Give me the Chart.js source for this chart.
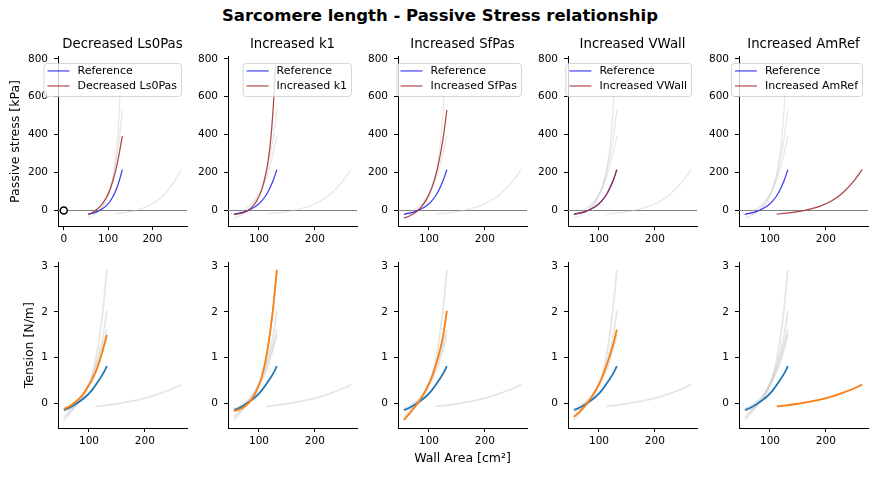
<!DOCTYPE html>
<html>
<head>
<meta charset="utf-8">
<title>Sarcomere length - Passive Stress relationship</title>
<script src="https://cdn.jsdelivr.net/npm/chart.js@4.4.1/dist/chart.umd.min.js"></script>
<style>
  body { margin: 0; background: #fff; }
  #figure { position: relative; width: 880px; height: 480px; font-family: "DejaVu Sans", sans-serif; overflow: hidden; }
  #suptitle { position: absolute; left: 0; width: 880px; top: 6px; text-align: center; font-weight: bold; font-size: 16.5px; color: #000; }
  .panel { position: absolute; }
</style>
</head>
<body>
<div id="figure">
  <div id="suptitle">Sarcomere length - Passive Stress relationship</div>
</div>
<script>
// panel titles, one per changed parameter
const panelTitles = ['Decreased Ls0Pas', 'Increased k1', 'Increased SfPas', 'Increased VWall', 'Increased AmRef'];

// wall area [cm^2]
const wallArea = [55, 65, 75, 85, 95, 105, 115, 125, 132];
const wallAreaK1Stress = [55, 65, 75, 85, 95, 105, 115, 120, 125, 129.5];
const wallAreaAmRef = [112, 130, 150, 170, 190, 210, 230, 250, 265];

// passive stress [kPa]
const stressRef = [-20, -14, -6, 6, 23, 50, 92, 155, 215];
const stressLs0Pas = [-22, -11, 6, 29, 64, 115, 190, 299, 392];
const stressK1 = [-21, -17, -8, 10, 46, 110, 238, 345, 520, 770];
const stressSfPas = [-40, -29, -12, 15, 56, 120, 220, 375, 530];
const stressVWall = [-20, -14, -6, 6, 23, 50, 92, 155, 215];
const stressAmRef = [-19, -14, -6, 6, 23, 50, 92, 155, 215];

// tension [N/m]
const tensionRef = [-0.15, -0.10, -0.03, 0.05, 0.15, 0.28, 0.45, 0.64, 0.81];
const tensionLs0Pas = [-0.13, -0.07, 0.02, 0.13, 0.30, 0.50, 0.78, 1.17, 1.49];
const tensionK1 = [-0.17, -0.14, -0.07, 0.05, 0.25, 0.58, 1.15, 2.05, 2.92];
const tensionSfPas = [-0.37, -0.23, -0.08, 0.09, 0.30, 0.57, 0.95, 1.45, 2.02];
const tensionVWall = [-0.30, -0.19, -0.06, 0.10, 0.30, 0.55, 0.88, 1.27, 1.61];
const tensionAmRef = [-0.07, -0.05, -0.015, 0.025, 0.075, 0.14, 0.225, 0.32, 0.405];

// tick labels
const stressTicks = [0, 200, 400, 600, 800];
const tensionTicks = [0, 1, 2, 3];
const areaTicks = [100, 200];
const areaTicksFirst = [0, 100, 200];

const toPoints = (xs, ys) => xs.map((x, i) => ({x: x, y: ys[i]}));

const stressRefPts = toPoints(wallArea, stressRef);
const stressSeries = [
    toPoints(wallArea, stressLs0Pas),
    toPoints(wallAreaK1Stress, stressK1),
    toPoints(wallArea, stressSfPas),
    toPoints(wallArea, stressVWall),
    toPoints(wallAreaAmRef, stressAmRef)
];
const tensionRefPts = toPoints(wallArea, tensionRef);
const tensionSeries = [
    toPoints(wallArea, tensionLs0Pas),
    toPoints(wallArea, tensionK1),
    toPoints(wallArea, tensionSfPas),
    toPoints(wallArea, tensionVWall),
    toPoints(wallAreaAmRef, tensionAmRef)
];

Chart.defaults.font.family = '"DejaVu Sans", sans-serif';
Chart.defaults.color = '#000';
Chart.defaults.animation = false;

// grey line at zero stress
const zeroLine = {
    id: 'zeroLine',
    beforeDatasetsDraw(chart, args, opts) {
        if (!opts.show) return;
        const {ctx, chartArea, scales} = chart;
        const y = Math.round(scales.y.getPixelForValue(0)) + 0.5;
        ctx.save();
        ctx.strokeStyle = '#808080';
        ctx.lineWidth = 1;
        ctx.beginPath();
        ctx.moveTo(chartArea.left, y);
        ctx.lineTo(chartArea.right, y);
        ctx.stroke();
        ctx.restore();
    }
};

// matplotlib-like framed legend, upper right inside the axes
const boxLegend = {
    id: 'boxLegend',
    afterDraw(chart, args, opts) {
        if (!opts.items) return;
        const {ctx, chartArea} = chart;
        ctx.save();
        ctx.font = '11px "DejaVu Sans", sans-serif';
        const textW = Math.max(...opts.items.map(it => ctx.measureText(it.label).width));
        const w = 33 + textW + 5;
        const h = 33;
        const x = chartArea.right - 6 - w;
        const y = chartArea.top + 6;
        ctx.beginPath();
        ctx.roundRect(x + 0.5, y + 0.5, w, h, 3);
        ctx.fillStyle = 'rgba(255,255,255,0.8)';
        ctx.fill();
        ctx.strokeStyle = 'rgba(204,204,204,0.8)';
        ctx.lineWidth = 1;
        ctx.stroke();
        opts.items.forEach((it, i) => {
            const cy = y + 8 + i * 15;
            ctx.strokeStyle = it.color;
            ctx.lineWidth = 1.2;
            ctx.beginPath();
            ctx.moveTo(x + 4, cy);
            ctx.lineTo(x + 26, cy);
            ctx.stroke();
            ctx.fillStyle = '#000';
            ctx.textBaseline = 'middle';
            ctx.fillText(it.label, x + 34, cy);
        });
        ctx.restore();
    }
};

const fig = document.getElementById('figure');
const colLeft = [58, 228, 398, 568, 739];
const axW = 129;
const grey = 'rgba(200,200,200,0.45)';

function makePanel(row, col) {
    const isTop = row === 0;
    const yW = col === 0 ? 58 : 42;
    const padR = 12;
    const top = isTop ? 28 : 250;
    const h = isTop ? 222 : 230;
    const w = yW + axW + padR;

    const div = document.createElement('div');
    div.className = 'panel';
    div.style.left = (colLeft[col] - yW) + 'px';
    div.style.top = top + 'px';
    const canvas = document.createElement('canvas');
    canvas.width = w;
    canvas.height = h;
    div.appendChild(canvas);
    fig.appendChild(div);

    const series = isTop ? stressSeries : tensionSeries;
    const refPts = isTop ? stressRefPts : tensionRefPts;
    const modColor = isTop ? 'rgba(165,42,42,0.85)' : '#ff7f0e';
    const refColor = isTop ? 'rgba(0,0,255,0.75)' : '#1f77b4';
    const lw = isTop ? 1.2 : 1.8;

    const datasets = [];
    if (isTop && col === 0) {
        datasets.push({
            label: 'origin',
            data: [{x: 0, y: 0}],
            showLine: false,
            pointRadius: 3.5,
            pointBorderWidth: 1.5,
            pointBorderColor: '#000',
            pointBackgroundColor: '#fff',
            order: -1
        });
    }
    datasets.push({
        label: panelTitles[col],
        data: series[col],
        borderColor: modColor,
        borderWidth: lw,
        order: 0
    });
    datasets.push({
        label: 'Reference',
        data: refPts,
        borderColor: refColor,
        borderWidth: lw,
        order: 1
    });
    series.forEach((pts, i) => {
        datasets.push({
            label: 'grey ' + i,
            data: pts,
            borderColor: grey,
            borderWidth: lw,
            order: 2
        });
    });

    const xFirst = isTop && col === 0;
    new Chart(canvas, {
        type: 'line',
        data: {datasets: datasets},
        options: {
            responsive: false,
            layout: {padding: {top: isTop ? 0 : 8, right: padR, left: 0, bottom: 0}},
            elements: {
                point: {radius: 0},
                line: {cubicInterpolationMode: 'monotone'}
            },
            scales: {
                x: {
                    type: 'linear',
                    min: xFirst ? -13 : 44.5,
                    max: xFirst ? 278 : 275.5,
                    afterBuildTicks: s => { s.ticks = (xFirst ? areaTicksFirst : areaTicks).map(v => ({value: v})); },
                    afterFit: s => { s.height = isTop ? 24 : 52; },
                    grid: {drawOnChartArea: false, tickLength: 4, tickColor: '#000'},
                    border: {color: '#000'},
                    ticks: {font: {size: 10.5}, padding: 3, maxRotation: 0},
                    title: {
                        display: !isTop && col === 2,
                        text: 'Wall Area [cm²]',
                        font: {size: 12.5},
                        padding: {top: 0, bottom: 14}
                    }
                },
                y: {
                    min: isTop ? -82 : -0.545,
                    max: isTop ? 810 : 3.085,
                    afterBuildTicks: s => { s.ticks = (isTop ? stressTicks : tensionTicks).map(v => ({value: v})); },
                    afterFit: s => { s.width = yW; },
                    grid: {drawOnChartArea: false, tickLength: 4, tickColor: '#000'},
                    border: {color: '#000'},
                    ticks: {font: {size: 10.5}, padding: 6},
                    title: {
                        display: col === 0,
                        text: isTop ? 'Passive stress [kPa]' : 'Tension [N/m]',
                        font: {size: 12.5},
                        padding: {top: isTop ? 8.5 : 22.5, bottom: 0}
                    }
                }
            },
            plugins: {
                legend: {display: false},
                tooltip: {enabled: false},
                title: {
                    display: isTop,
                    fullSize: false,
                    text: panelTitles[col],
                    font: {size: 13.3, weight: 'normal'},
                    color: '#000',
                    padding: {top: 9, bottom: 4}
                },
                zeroLine: {show: isTop},
                boxLegend: isTop ? {items: [
                    {label: 'Reference', color: refColor},
                    {label: panelTitles[col], color: modColor}
                ]} : {}
            }
        },
        plugins: [zeroLine, boxLegend]
    });
}

for (let row = 0; row < 2; row++) {
    for (let col = 0; col < 5; col++) {
        makePanel(row, col);
    }
}
</script>
</body>
</html>
